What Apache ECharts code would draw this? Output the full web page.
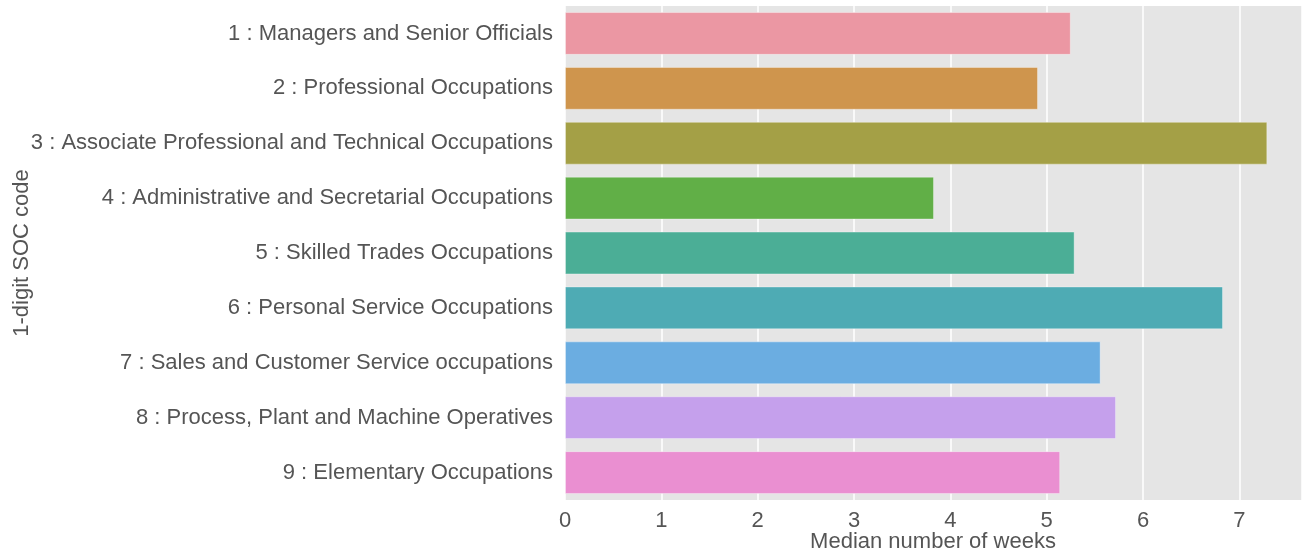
<!DOCTYPE html>
<html>
<head>
<meta charset="utf-8">
<script src="https://cdn.jsdelivr.net/npm/echarts@6/dist/echarts.min.js"></script>
<style>
  html, body { margin: 0; padding: 0; background: #fff; }
  #chart { width: 1302px; height: 556px; }
</style>
</head>
<body>
<div id="chart"></div>
<script>
// categories, top to bottom
var categories = [
  "1 : Managers and Senior Officials",
  "2 : Professional Occupations",
  "3 : Associate Professional and Technical Occupations",
  "4 : Administrative and Secretarial Occupations",
  "5 : Skilled Trades Occupations",
  "6 : Personal Service Occupations",
  "7 : Sales and Customer Service occupations",
  "8 : Process, Plant and Machine Operatives",
  "9 : Elementary Occupations"
];
var medianWeeks = [5.25, 4.91, 7.29, 3.83, 5.29, 6.83, 5.56, 5.72, 5.14];
var barColors = ["#eb97a3", "#cf954d", "#a4a046", "#61af47", "#4bae96",
                 "#4eabb4", "#6badE1", "#c5a0ec", "#ea8fd1"];
var xTicks = [0, 1, 2, 3, 4, 5, 6, 7];
var xTitle = "Median number of weeks";
var yTitle = "1-digit SOC code";

var textColor = "#555555";
var font = "Liberation Sans, Arial, sans-serif";

var chart = echarts.init(document.getElementById("chart"));
chart.setOption({
  animation: false,
  grid: { left: 565, right: 0, top: 6, bottom: 56, containLabel: false, outerBoundsMode: "none" },
  graphic: [
    {
      type: "text", x: 933, y: 542,
      style: { text: xTitle, fill: textColor, fontSize: 22, fontFamily: font,
               align: "center", verticalAlign: "middle" }
    },
    {
      type: "text", x: 22, y: 253, rotation: Math.PI / 2,
      style: { text: yTitle, fill: textColor, fontSize: 22, fontFamily: font,
               align: "center", verticalAlign: "middle" }
    }
  ],
  xAxis: {
    type: "value",
    min: 0,
    max: 7.65,
    interval: 1,
    axisLine: { show: false },
    axisTick: { show: false },
    axisLabel: {
      color: textColor, fontSize: 22, fontFamily: font, margin: 10,
      showMaxLabel: false,
      formatter: function (v) { return xTicks.indexOf(v) >= 0 ? String(v) : ""; }
    },
    splitLine: { show: true, lineStyle: { color: "#ffffff", width: 1.5 } }
  },
  yAxis: {
    type: "category",
    inverse: true,
    data: categories,
    axisLine: { show: false },
    axisTick: { show: false },
    axisLabel: { color: textColor, fontSize: 22, fontFamily: font, margin: 12 },
    splitLine: { show: false },
    splitArea: { show: true, areaStyle: { color: ["#e5e5e5"] } }
  },
  series: [{
    type: "bar",
    data: medianWeeks.map(function (v, i) {
      return { value: v, itemStyle: { color: barColors[i] } };
    }),
    barCategoryGap: "22%",
    itemStyle: { borderColor: "rgba(255,255,255,0.35)", borderWidth: 1 }
  }]
});
</script>
</body>
</html>
